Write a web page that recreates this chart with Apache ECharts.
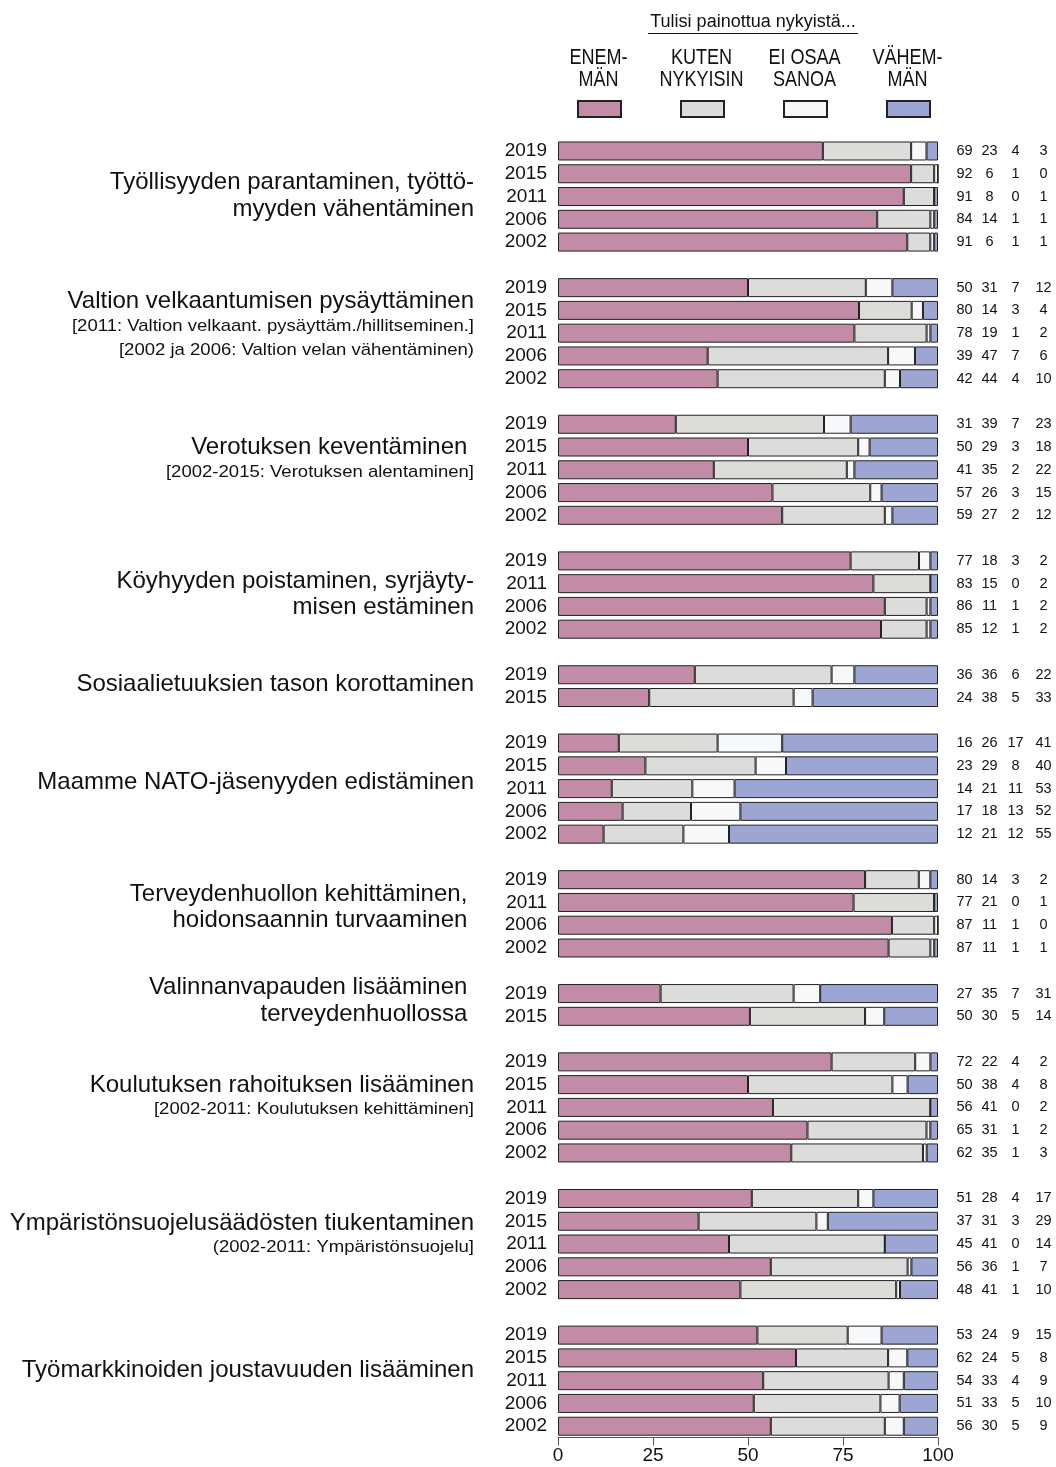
<!DOCTYPE html>
<html>
<head>
<meta charset="utf-8">
<script src="https://cdn.jsdelivr.net/npm/echarts@6/dist/echarts.min.js"></script>
<style>
html,body{margin:0;padding:0;background:#fff;}
#main{width:1056px;height:1467px;}
</style>
</head>
<body>
<div id="main"></div>
<script>
// vuodet ryhmittäin
var groupYears = [
	['2019','2015','2011','2006','2002'],
	['2019','2015','2011','2006','2002'],
	['2019','2015','2011','2006','2002'],
	['2019','2011','2006','2002'],
	['2019','2015'],
	['2019','2015','2011','2006','2002'],
	['2019','2011','2006','2002'],
	['2019','2015'],
	['2019','2015','2011','2006','2002'],
	['2019','2015','2011','2006','2002'],
	['2019','2015','2011','2006','2002']
];

var enemman  = [[69,92,91,84,91],[50,80,78,39,42],[31,50,41,57,59],[77,83,86,85],[36,24],[16,23,14,17,12],[80,77,87,87],[27,50],[72,50,56,65,62],[51,37,45,56,48],[53,62,54,51,56]];
var kuten    = [[23,6,8,14,6],[31,14,19,47,44],[39,29,35,26,27],[18,15,11,12],[36,38],[26,29,21,18,21],[14,21,11,11],[35,30],[22,38,41,31,35],[28,31,41,36,41],[24,24,33,33,30]];
var eiOsaa   = [[4,1,0,1,1],[7,3,1,7,4],[7,3,2,3,2],[3,0,1,1],[6,5],[17,8,11,13,12],[3,0,1,1],[7,5],[4,4,0,1,1],[4,3,0,1,1],[9,5,4,5,5]];
var vahemman = [[3,0,1,1,1],[12,4,2,6,10],[23,18,22,15,12],[2,2,2,2],[22,33],[41,40,53,52,55],[2,1,0,1],[31,14],[2,8,2,2,3],[17,29,14,7,10],[15,8,9,10,9]];

var seriesNames = ['ENEMMÄN','KUTEN NYKYISIN','EI OSAA SANOA','VÄHEMMÄN'];
var legendTexts = ['ENEM-\nMÄN','KUTEN\nNYKYISIN','EI OSAA\nSANOA','VÄHEM-\nMÄN'];
var xTicks = [0,25,50,75,100];

var groupLabels = [
	['Työllisyyden parantaminen, työttö-','myyden vähentäminen'],
	['Valtion velkaantumisen pysäyttäminen','[2011: Valtion velkaant. pysäyttäm./hillitseminen.]','[2002 ja 2006: Valtion velan vähentäminen)'],
	['Verotuksen keventäminen ','[2002-2015: Verotuksen alentaminen]'],
	['Köyhyyden poistaminen, syrjäyty-','misen estäminen'],
	['Sosiaalietuuksien tason korottaminen'],
	['Maamme NATO-jäsenyyden edistäminen'],
	['Terveydenhuollon kehittäminen, ','hoidonsaannin turvaaminen '],
	['Valinnanvapauden lisääminen ','terveydenhuollossa '],
	['Koulutuksen rahoituksen lisääminen','[2002-2011: Koulutuksen kehittäminen]'],
	['Ympäristönsuojelusäädösten tiukentaminen','(2002-2011: Ympäristönsuojelu]'],
	['Työmarkkinoiden joustavuuden lisääminen']
];
// tekstilohkon siirto ryhmän keskikohdasta (px)
var labelShift = [-0.5,-7,-10,-0.5,-1.5,-6,-6.5,-4,-10,-8.5,-10];

var colors = ['#C28BA6','#DCDCDA','#F7F8FA','#9DA6D3'];
var FONT = '"Liberation Sans", Arial, sans-serif';

var chart = echarts.init(document.getElementById('main'));

// kategoriat: rivit + tyhjä väli ryhmien välissä
var cats = [], yearOf = {}, valOf = {}, groupKeys = [];
var seriesData = [[],[],[],[]];
for (var g = 0; g < groupYears.length; g++) {
	if (g > 0) {
		cats.push('gap' + g);
		for (var s = 0; s < 4; s++) seriesData[s].push('-');
	}
	groupKeys.push([]);
	for (var i = 0; i < groupYears[g].length; i++) {
		var key = 'g' + g + '_' + i;
		cats.push(key);
		groupKeys[g].push(key);
		yearOf[key] = groupYears[g][i];
		var vals = [enemman[g][i], kuten[g][i], eiOsaa[g][i], vahemman[g][i]];
		valOf[key] = vals;
		var sum = vals[0] + vals[1] + vals[2] + vals[3];
		for (var s = 0; s < 4; s++) seriesData[s].push(vals[s] / sum * 100);
	}
}

var series = [];
for (var s = 0; s < 4; s++) {
	series.push({
		name: seriesNames[s],
		type: 'bar',
		stack: 'all',
		barWidth: 19,
		data: seriesData[s],
		itemStyle: {color: colors[s], borderColor: '#222', borderWidth: 1},
		emphasis: {disabled: true}
	});
}

var option = {
	animation: false,
	textStyle: {fontFamily: FONT},
	grid: {left: 558, right: 118, top: 139.6, height: 1298},
	legend: {
		left: 577, top: 100, padding: 0,
		itemWidth: 43, itemHeight: 16, itemGap: 58,
		icon: 'rect',
		selectedMode: false,
		formatter: function(){ return ''; },
		data: seriesNames
	},
	xAxis: {
		type: 'value', min: 0, max: 100, interval: 25,
		axisLine: {show: true, lineStyle: {color: '#555', width: 1}},
		axisTick: {show: true, length: 8, lineStyle: {color: '#555'}},
		axisLabel: {fontSize: 19, color: '#111', margin: 9,
			formatter: function(v){ return xTicks.indexOf(v) >= 0 ? String(v) : ''; }},
		splitLine: {show: false}
	},
	yAxis: [{
		type: 'category', inverse: true, data: cats,
		axisLine: {show: false}, axisTick: {show: false},
		axisLabel: {fontSize: 19, color: '#111', margin: 11, interval: 0,
			formatter: function(k){ return yearOf[k] || ''; }}
	}, {
		type: 'category', inverse: true, data: cats, position: 'right',
		axisLine: {show: false}, axisTick: {show: false},
		axisLabel: {margin: 14, interval: 0, color: '#111',
			formatter: function(k){
				var v = valOf[k];
				if (!v) return '';
				return '{a|' + v[0] + '}{b|' + v[1] + '}{c|' + v[2] + '}{d|' + v[3] + '}';
			},
			rich: {
				a: {width: 25, align: 'center', fontSize: 14.5, color: '#111'},
				b: {width: 25, align: 'center', fontSize: 14.5, color: '#111'},
				c: {width: 27, align: 'center', fontSize: 14.5, color: '#111'},
				d: {width: 29, align: 'center', fontSize: 14.5, color: '#111'}
			}
		}
	}],
	series: series
};
chart.setOption(option);

// ryhmien otsikot vasemmalle
function isSub(t){ return t.charAt(0) === '[' || t.charAt(0) === '('; }
var graphics = [];
for (var g = 0; g < groupLabels.length; g++) {
	var keys = groupKeys[g];
	var y0 = chart.convertToPixel({yAxisIndex: 0}, keys[0]);
	var y1 = chart.convertToPixel({yAxisIndex: 0}, keys[keys.length - 1]);
	var mid = (y0 + y1) / 2 + labelShift[g];
	var lines = groupLabels[g];
	// rivivälit: pääteksti 26.5, alaotsikko 24.5
	var offs = [0];
	for (var i = 1; i < lines.length; i++) offs.push(offs[i - 1] + (isSub(lines[i]) ? 24.5 : 26.5));
	var h = offs[offs.length - 1];
	for (var i = 0; i < lines.length; i++) {
		var small = isSub(lines[i]);
		graphics.push({
			type: 'text', x: 474, y: mid - h / 2 + offs[i],
			scaleX: small ? 1.09 : 1,
			style: {text: lines[i], fontSize: small ? 17 : 24, fill: '#111',
				fontFamily: FONT, textAlign: 'right', textVerticalAlign: 'middle'}
		});
	}
}
// otsikko ja selitteen tekstit
graphics.push({
	type: 'text', x: 753, y: 22,
	style: {text: 'Tulisi painottua nykyistä...', fontSize: 18, fill: '#111',
		fontFamily: FONT, textAlign: 'center', textVerticalAlign: 'middle'}
});
graphics.push({type: 'line', shape: {x1: 648, y1: 33.5, x2: 858, y2: 33.5}, style: {stroke: '#111', lineWidth: 1}});
for (var s = 0; s < 4; s++) {
	graphics.push({
		type: 'text', x: 577 + 21.5 + s * 103, y: 47, scaleX: 0.82,
		style: {text: legendTexts[s], fontSize: 22, lineHeight: 22, fill: '#111',
			fontFamily: FONT, textAlign: 'center', textVerticalAlign: 'top'}
	});
}
chart.setOption({graphic: graphics});

window.addEventListener('resize', function(){ chart.resize(); });
</script>
</body>
</html>
